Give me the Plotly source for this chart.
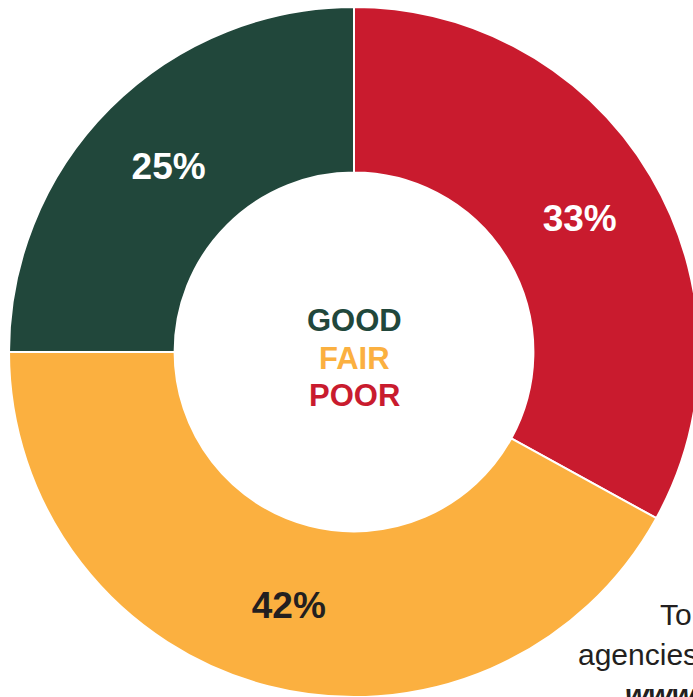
import plotly.graph_objects as go

labels = ["POOR", "FAIR", "GOOD"]
values = [33, 42, 25]
colors = ["#C91B2E", "#FBB040", "#21473B"]
text_colors = ["#FFFFFF", "#231F20", "#FFFFFF"]
center_labels = ["GOOD", "FAIR", "POOR"]
center_colors = ["#21473B", "#FBB040", "#C91B2E"]
side_lines = ["To", "agencies", "<b><i>www</i></b>"]

W, H = 800, 800
cx, cy, R = 354, 352, 345

fig = go.Figure(go.Pie(
    labels=labels,
    values=values,
    sort=False,
    direction="clockwise",
    rotation=0,
    hole=0.52,
    marker=dict(colors=colors, line=dict(color="#FFFFFF", width=2)),
    texttemplate="<b>%{percent:.0%}</b>",
    textposition="inside",
    insidetextorientation="horizontal",
    insidetextfont=dict(family="Liberation Sans", size=37, color=text_colors),
    hoverinfo="skip",
    showlegend=False,
    domain=dict(x=[(cx - R) / W, (cx + R) / W], y=[1 - (cy + R) / H, 1 - (cy - R) / H]),
))

center_y = [320, 358, 395]
for l, c, yy in zip(center_labels, center_colors, center_y):
    fig.add_annotation(text=f"<b>{l}</b>", x=cx / W, y=1 - yy / H, xref="paper", yref="paper",
                       xanchor="center", yanchor="middle", showarrow=False,
                       font=dict(family="Liberation Sans", size=31, color=c))

side_x = [658, 576, 623]
side_y = [614, 654, 694]
for t, sx, sy in zip(side_lines, side_x, side_y):
    fig.add_annotation(text=t, x=sx / W, y=1 - sy / H, xref="paper", yref="paper",
                       xanchor="left", yanchor="middle", showarrow=False,
                       font=dict(family="Liberation Sans", size=30, color="#231F20"))

fig.update_layout(width=W, height=H, margin=dict(l=0, r=0, t=0, b=0),
                  paper_bgcolor="#FFFFFF", plot_bgcolor="#FFFFFF")

fig.write_html("out.html", post_script="document.body.style.margin='0';document.body.style.overflow='hidden';")
